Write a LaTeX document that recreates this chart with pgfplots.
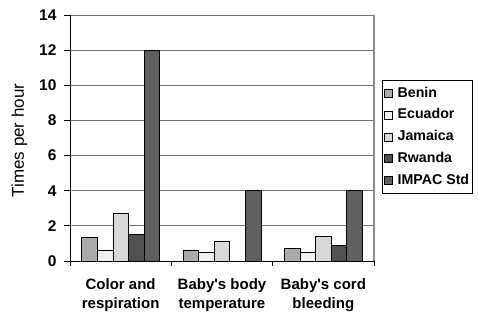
\documentclass[border=0pt]{standalone}
\usepackage{pgfplots}
\pgfplotsset{compat=1.18}
\usepackage{fontspec}
\setmainfont{Liberation Sans}
\definecolor{cBenin}{RGB}{170,170,170}
\definecolor{cEcuador}{RGB}{240,240,240}
\definecolor{cJamaica}{RGB}{216,216,216}
\definecolor{cRwanda}{RGB}{80,80,80}
\definecolor{cImpac}{RGB}{96,96,96}
\begin{document}
\begin{tikzpicture}
\path[use as bounding box] (0,0) rectangle (479bp,313bp);
\begin{axis}[
  at={(70bp,52bp)}, anchor=south west,
  scale only axis, width=304bp, height=246bp,
  ybar=0pt, bar width=15.6bp,
  xmin=-0.5, xmax=2.5, ymin=0, ymax=14,
  ytick={0,2,...,14},
  xtick={0,1,2},
  xticklabels={{Color and\\respiration},{Baby\textquotesingle s body\\temperature},{Baby\textquotesingle s cord\\bleeding}},
  xticklabel style={align=center, font=\fontsize{15bp}{19.5bp}\selectfont\bfseries, yshift=-8bp},
  yticklabel style={font=\fontsize{15.5bp}{18bp}\selectfont\bfseries, xshift=-4bp},
  /pgf/number format/assume math mode=true,
  major x tick style={draw=none},
  minor xtick={-0.5,0.5,1.5,2.5},
  minor x tick style={black, line width=0.8pt},
  major y tick style={black, line width=0.8pt},
  tick align=outside,
  axis lines*=left,
  axis line style={black, line width=0.9pt},
  major tick length=6bp, minor tick length=5bp,
  ymajorgrids, grid style={black!55, line width=0.9pt},
  extra x ticks={2.5}, extra x tick labels={},
  extra x tick style={xmajorgrids=true, major tick length=0pt, grid style={black!45, line width=1.2pt}},
  ylabel={Times per hour},
  ylabel style={font=\fontsize{17bp}{19bp}\selectfont, at={(axis description cs:-0.166,0.49)}, anchor=center},
  legend style={at={(axis description cs:1.0263,0.736)}, anchor=north west, draw=black, line width=0.6pt,
    font=\fontsize{14.2bp}{17bp}\selectfont\bfseries, inner xsep=1.5bp, inner ysep=4bp, row sep=3.2bp,
    nodes={text height=11bp, text depth=3.5bp, inner ysep=2bp, inner xsep=1.2bp}},
  legend cell align=left,
  legend image code/.code={\draw[#1, draw=black, line width=0.6pt] (0bp,-4bp) rectangle (8bp,4bp); \path (12bp,0bp);},
  every axis plot/.append style={draw=black, line width=0.7pt},
]
\addplot[fill=cBenin] coordinates {(0,1.35) (1,0.63) (2,0.72)};
\addplot[fill=cEcuador] coordinates {(0,0.59) (1,0.49) (2,0.49)};
\addplot[fill=cJamaica] coordinates {(0,2.71) (1,1.1) (2,1.4)};
\addplot[fill=cRwanda] coordinates {(0,1.53) (2,0.89)};
\addplot[fill=cImpac] coordinates {(0,12) (1,4) (2,4)};
\legend{Benin,Ecuador,Jamaica,Rwanda,IMPAC Std}
\end{axis}
\end{tikzpicture}
\end{document}
